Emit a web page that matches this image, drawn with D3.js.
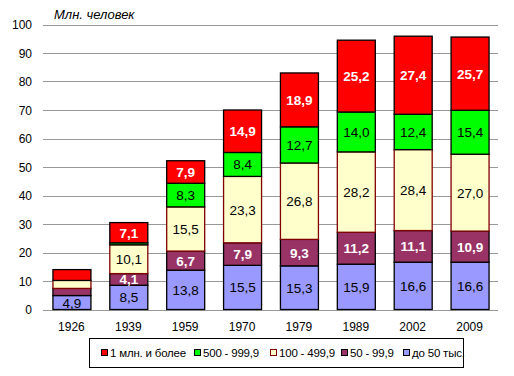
<!DOCTYPE html>
<html><head><meta charset="utf-8">
<script src="https://cdn.jsdelivr.net/npm/d3@7"></script>
<style>body{margin:0;background:#fff;}svg{display:block;font-family:Arial,"Liberation Sans",sans-serif;}</style>
</head><body><svg id="c" width="514" height="376"></svg>
<script>
const years = ["1926","1939","1959","1970","1979","1989","2002","2009"];
const seriesNames = ["до 50 тыс.","50 - 99,9","100 - 499,9","500 - 999,9","1 млн. и более"];
const upTo50 = [4.9, 8.5, 13.8, 15.5, 15.3, 15.9, 16.6, 16.6];
const from50 = [2.5, 4.1, 6.7, 7.9, 9.3, 11.2, 11.1, 10.9];
const from100 = [2.8, 10.1, 15.5, 23.3, 26.8, 28.2, 28.4, 27.0];
const from500 = [0, 0.7, 8.3, 8.4, 12.7, 14.0, 12.4, 15.4];
const million = [3.8, 7.1, 7.9, 14.9, 18.9, 25.2, 27.4, 25.7];
const yTicks = [0,10,20,30,40,50,60,70,80,90,100];
const fills = ["#9999FF","#993366","#FFFFCC","#00FF00","#FF0000"];
const strokes = ["#000","#000","#800000","#000","#000"];
const labelColors = ["#000","#fff","#000","#000","#fff"];
const labelWeights = ["normal","bold","normal","normal","bold"];

const seriesData = [upTo50, from50, from100, from500, million];
const rows = years.map((y,i)=>{const r={year:y}; seriesData.forEach((s,k)=>r["s"+k]=s[i]); return r;});
const stack = d3.stack().keys(seriesData.map((_,k)=>"s"+k))(rows);

const svg = d3.select("#c");
const x = d3.scaleBand().domain(years).range([43,498]).paddingInner(0.332).paddingOuter(0.166);
const y = d3.scaleLinear().domain([0,100]).range([309.5,24.5]);

// grid
svg.append("g").selectAll("line").data(yTicks).join("line")
  .attr("x1",43).attr("x2",498).attr("y1",d=>Math.round(y(d))+0.5).attr("y2",d=>Math.round(y(d))+0.5)
  .attr("stroke","#999").attr("stroke-width",1);

// y labels
svg.append("g").selectAll("text").data(yTicks).join("text")
  .attr("x",32).attr("y",d=>y(d)+4.5).attr("text-anchor","end")
  .attr("font-size",12).attr("fill","#000").text(d=>d);

// x labels
svg.append("g").selectAll("text").data(years).join("text")
  .attr("x",d=>x(d)+x.bandwidth()/2).attr("y",331).attr("text-anchor","middle")
  .attr("font-size",12).text(d=>d);

// bars
stack.forEach((layer,k)=>{
  const g = svg.append("g");
  g.selectAll("rect").data(layer.filter(d=>d[1]-d[0]>0)).join("rect")
    .attr("x",d=>x(d.data.year)+0.5).attr("width",x.bandwidth())
    .attr("y",d=>y(d[1])).attr("height",d=>y(d[0])-y(d[1]))
    .attr("fill",fills[k]).attr("stroke",strokes[k]).attr("stroke-width",1.3);
});
stack.forEach((layer,k)=>{
  svg.append("g").selectAll("text").data(layer.filter(d=>d[1]-d[0]>=4)).join("text")
    .attr("x",d=>x(d.data.year)+x.bandwidth()/2+0.5).attr("y",d=>(y(d[0])+y(d[1]))/2+5)
    .attr("text-anchor","middle").attr("font-size",13.5)
    .attr("fill",labelColors[k]).attr("font-weight",labelWeights[k])
    .text(d=>d3.format(".1f")(d[1]-d[0]).replace(".",","));
});

// title
svg.append("text").attr("x",54).attr("y",19).attr("font-size",13).attr("font-style","italic").text("Млн. человек");

// legend
svg.append("rect").attr("x",89.5).attr("y",338.5).attr("width",374).attr("height",29).attr("fill","#fff").attr("stroke","#000");
const legendOrder = [4,3,2,1,0];
const legendX = [101,194,270,341,403];
legendOrder.forEach((k,i)=>{
  svg.append("rect").attr("x",legendX[i]+0.5).attr("y",349.5).attr("width",6).attr("height",6)
    .attr("fill",fills[k]).attr("stroke",strokes[k]);
  svg.append("text").attr("x",legendX[i]+9).attr("y",357).attr("font-size",11.5).attr("letter-spacing",-0.2).text(seriesNames[k]);
});
</script></body></html>
